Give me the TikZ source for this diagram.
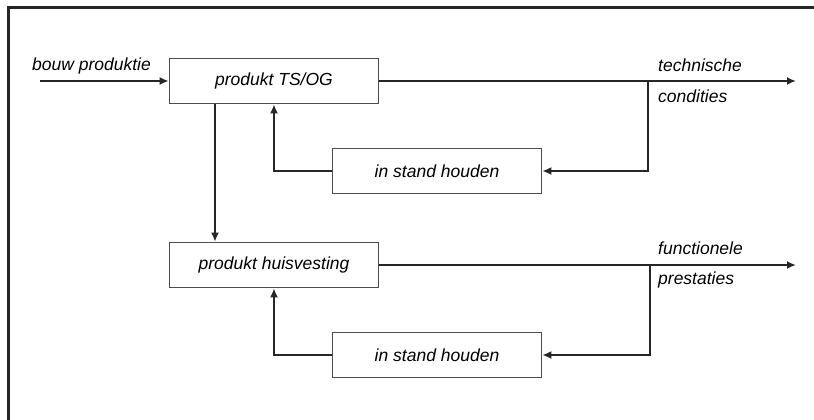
\documentclass[tikz,border=0pt]{standalone}
\usepackage{fontspec}
\setmainfont{Liberation Sans}
\usetikzlibrary{arrows.meta}
\begin{document}
\begin{tikzpicture}[x=1pt,y=-1pt,
  box/.style={draw=black!70,line width=1.6pt,fill=white,minimum width=209pt,minimum height=45pt,inner sep=0pt,font=\fontsize{17.5}{20}\selectfont\itshape},
  lbl/.style={anchor=west,inner sep=0pt,font=\fontsize{17.5}{20}\selectfont\itshape},
  conn/.style={line width=2pt,draw=black!85},
  arr/.style={conn,-{Latex[length=9pt,width=8pt]}}]
\useasboundingbox (0,0) rectangle (814,420);
\draw[line width=3pt,black!85] (8,420) -- (8,8) -- (814,8);
\node[box] (b1) at (274,81) {produkt TS/OG};
\node[box] (b2) at (437,171) {in stand houden};
\node[box] (b3) at (274,265) {produkt huisvesting};
\node[box] (b4) at (437,355) {in stand houden};
\coordinate (in1) at (40,81);
\coordinate (out1) at (796,81);
\coordinate (out2) at (796,265);
\coordinate (j1) at (648,81);
\coordinate (j2) at (650,265);
\coordinate (v) at (215,0);
\draw[arr] (in1) -- (b1.west);
\draw[arr] (b1.east) -- (out1);
\draw[arr] (j1) |- (b2.east);
\draw[arr] (b2.west) -| (b1.south);
\draw[arr] (b1.south -| v) -- (b3.north -| v);
\draw[arr] (b3.east) -- (out2);
\draw[arr] (j2) |- (b4.east);
\draw[arr] (b4.west) -| (b3.south);
\node[lbl] (l0) at (32,66) {bouw produktie};
\node[lbl] (l1) at (658,65) {technische};
\node[lbl] (l2) at (658,96) {condities};
\node[lbl] (l3) at (658,248) {functionele};
\node[lbl] (l4) at (658,280) {prestaties};
\end{tikzpicture}
\end{document}
